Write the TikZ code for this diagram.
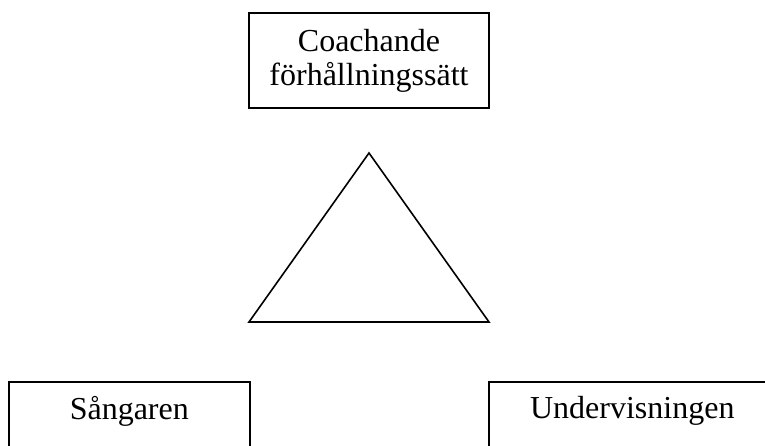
\documentclass[tikz,border=0pt]{standalone}
\usepackage{fontspec}
\setmainfont{Liberation Serif}
\usetikzlibrary{calc}

\tikzset{
  frame/.style={draw=black, line width=1.6bp, inner sep=0pt},
  label text/.style={font=\fontsize{32bp}{34bp}\selectfont, inner sep=0pt},
  tri/.style={draw=black, line width=1.6bp, line join=miter}
}

\begin{document}
\begin{tikzpicture}[x=1bp, y=-1bp]
  \useasboundingbox (0,0) rectangle (765,446);
  \clip (0,0) rectangle (765,446);

  % top box
  \node[frame, label text, align=center, minimum width=240bp, minimum height=95bp]
    (coach) at (369,60.5) {Coachande\\förhållningssätt};

  % triangle between the three boxes
  \coordinate (apex) at (369,153);
  \coordinate (left) at (249,322);
  \coordinate (right) at (489,322);
  \draw[tri] (apex) -- (right) -- (left) -- cycle;

  % bottom boxes, running past the lower edge
  \node[frame, anchor=north west, minimum width=241bp, minimum height=80bp]
    (sang) at (8,381) {};
  \node[frame, anchor=north west, minimum width=287bp, minimum height=80bp]
    (under) at (488,381) {};
  \node[label text, anchor=base] (sangtext) at ($(sang.north)+(0,38)$) {Sångaren};
  \node[label text, anchor=base] (undertext) at ($(under.north)+(0,37)$) {Undervisningen};
\end{tikzpicture}
\end{document}
